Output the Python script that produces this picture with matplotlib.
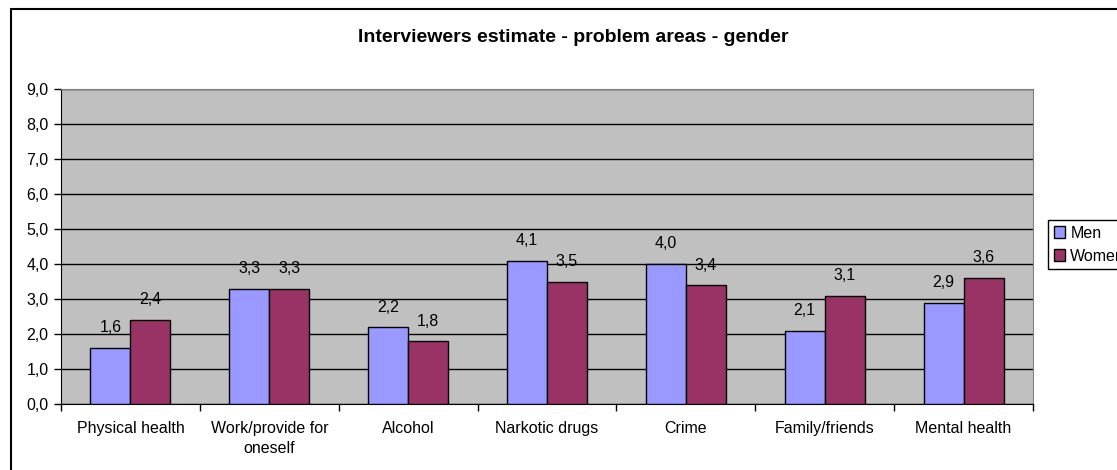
import numpy as np
import matplotlib
matplotlib.use('Agg')
import matplotlib.pyplot as plt
from matplotlib.patches import Rectangle

plt.rcParams['font.family'] = ['Liberation Sans', 'DejaVu Sans']

categories = ['Physical health', 'Work/provide for\noneself', 'Alcohol',
              'Narkotic drugs', 'Crime', 'Family/friends', 'Mental health']
men = [1.6, 3.3, 2.2, 4.1, 4.0, 2.1, 2.9]
women = [2.4, 3.3, 1.8, 3.5, 3.4, 3.1, 3.6]
yticks = np.arange(0, 10, 1)

fig = plt.figure(figsize=(11.17, 4.70), dpi=100)
ax = fig.add_axes([61/1117, 1-404/470, (1033-61)/1117, (404-89)/470])
ax.set_facecolor('#C0C0C0')

x = np.arange(len(categories))
w = 0.288
ax.bar(x - w/2, men, w, color='#9999FF', edgecolor='black', linewidth=1, label='Men', zorder=3)
ax.bar(x + w/2, women, w, color='#993366', edgecolor='black', linewidth=1, label='Women', zorder=3)

# value labels with comma decimals
for i in range(len(categories)):
    ax.annotate(f'{men[i]:.1f}'.replace('.', ','), (x[i] - w/2, men[i]), xytext=(0, 9),
                textcoords='offset points', ha='center', va='bottom', fontsize=11.5)
    ax.annotate(f'{women[i]:.1f}'.replace('.', ','), (x[i] + w/2, women[i]), xytext=(0, 9),
                textcoords='offset points', ha='center', va='bottom', fontsize=11.5)

ax.set_xlim(-0.5, len(categories) - 0.5)
ax.set_ylim(0, 9)
ax.set_yticks(yticks)
ax.set_yticklabels([f'{v:.1f}'.replace('.', ',') for v in yticks], fontsize=11.5)
ax.yaxis.grid(True, color='black', linewidth=1, zorder=0)
ax.set_axisbelow(True)
ax.tick_params(axis='y', length=5, width=1, pad=4)

ax.set_xticks(x)
ax.set_xticklabels(categories, fontsize=11.5, linespacing=1.45)
ax.set_xticks(np.arange(-0.5, len(categories), 1), minor=True)
ax.tick_params(axis='x', which='major', length=0, pad=12)
ax.tick_params(axis='x', which='minor', length=5, width=1)

ax.spines['left'].set_color('black')
ax.spines['bottom'].set_color('black')
ax.spines['top'].set_color('#808080')
ax.spines['right'].set_color('#808080')

fig.text(573/1117, 1 - 38/470, 'Interviewers estimate - problem areas - gender',
         ha='center', va='center', fontsize=14, fontweight='bold')

fig.legend(loc='upper left', bbox_to_anchor=(1048/1117, 1 - 220/470), fontsize=11.5,
           frameon=True, fancybox=False, edgecolor='black', framealpha=1,
           handlelength=0.7, handleheight=0.7, handletextpad=0.35, borderpad=0.35,
           labelspacing=0.5, borderaxespad=0)

# outer chart border running off the right/bottom edge
fig.patches.append(Rectangle((11/1117, -0.1), 1.2, 1 - 9/470 + 0.1, transform=fig.transFigure,
                             fill=False, edgecolor='black', linewidth=1.5))

fig.savefig('out.png', dpi=100)
